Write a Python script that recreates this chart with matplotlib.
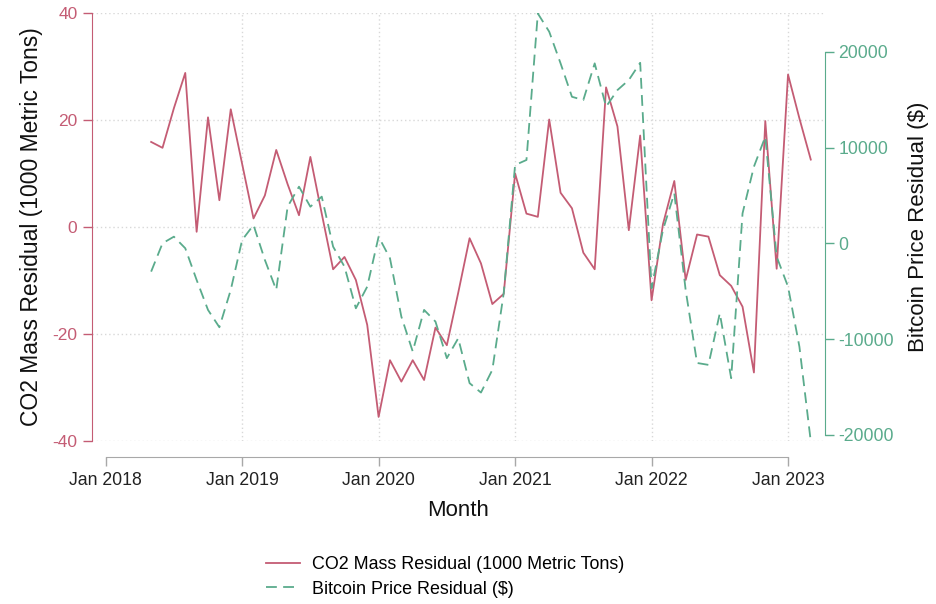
import matplotlib
matplotlib.use("Agg")
import matplotlib.pyplot as plt
import pandas as pd

plt.rcParams['font.family'] = ['Liberation Sans', 'DejaVu Sans']
plt.rcParams['axes.unicode_minus'] = False

# monthly residuals, May 2018 - Mar 2023
months = pd.period_range('2018-05', '2023-03', freq='M')
co2_resid = [15.9, 14.8, 22.2, 28.8, -0.9, 20.5, 5.0, 22.0,
             11.8, 1.6, 5.9, 14.4, 8.0, 2.2, 13.1, 2.5, -7.9, -5.6, -9.9, -18.3,
             -35.5, -24.9, -28.9, -24.9, -28.6, -18.8, -22.1, -12.3, -2.1, -6.8, -14.4, -12.5,
             10.0, 2.5, 1.9, 20.1, 6.4, 3.5, -4.8, -7.9, 26.1, 18.8, -0.6, 17.1,
             -13.7, 0.5, 8.6, -9.9, -1.4, -1.8, -9.0, -11.0, -14.9, -27.2, 19.8, -7.8,
             28.5, 20.3, 12.6]
btc_resid = [-2960, 0, 690, -520, -3830, -6960, -8770, -4870,
             340, 1910, -1740, -4870, 3820, 5910, 3820, 4870, -350, -2440, -6790, -4530,
             690, -1570, -7660, -11300, -6960, -8180, -12000, -9920, -14610, -15590, -13220, -5220,
             8170, 8700, 24000, 22100, 18790, 15300, 14960, 18790, 14260, 16000, 17050, 18850,
             -4700, 1390, 5220, -4900, -12500, -12700, -7310, -14090, 3130, 8000, 11130, -1400,
             -4530, -10800, -20700]
xtick_labels = ['Jan 2018', 'Jan 2019', 'Jan 2020', 'Jan 2021', 'Jan 2022', 'Jan 2023']

red = '#c45c74'
green = '#5aab8c'

# months since Jan 2018
x = (months.year - 2018) * 12 + months.month - 1

fig = plt.figure(figsize=(9.36, 6.04), dpi=100)
ax = fig.add_axes([92/936, 1 - 441/604, 733/936, 428/604])
ax2 = ax.twinx()

l1, = ax.plot(x, co2_resid, color=red, lw=1.3, label='CO2 Mass Residual (1000 Metric Tons)')
l2, = ax2.plot(x, btc_resid, color=green, lw=1.3, dashes=(6, 3.5), label='Bitcoin Price Residual ($)')

ax.set_xlim(-1.2, 63.25)
ax.set_ylim(-40, 40)
ax2.set_ylim(-20650, 24050)

xt = list(range(0, 61, 12))
ax.set_xticks(xt)
ax.set_xticklabels(xtick_labels)
ax.set_yticks([-40, -20, 0, 20, 40])
ax2.set_yticks([-20000, -10000, 0, 10000, 20000])

# dotted grid: all y ticks, x ticks after the first
grid_style = dict(color='#d8d8d8', linestyle=(0, (1, 2)), lw=1, zorder=0)
ax.grid(True, axis='y', **grid_style)
for t in xt[1:]:
    ax.axvline(t, **grid_style)

for s in ['top', 'right']:
    ax.spines[s].set_visible(False)
for s in ['top', 'left', 'bottom']:
    ax2.spines[s].set_visible(False)

ax.spines['left'].set_color(red)
ax.spines['left'].set_bounds(-40, 40)
ax.spines['bottom'].set_color('#a8a8a8')
ax.spines['bottom'].set_position(('outward', 11.5))
ax.spines['bottom'].set_bounds(0, 60)
ax2.spines['right'].set_color(green)
ax2.spines['right'].set_bounds(-20000, 20000)

ax.tick_params(axis='y', colors=red, length=6.5, width=1, labelsize=12.5, pad=4)
ax.tick_params(axis='x', color='#a8a8a8', labelcolor='#222222', length=6.5, width=1, labelsize=12.7, pad=4)
ax2.tick_params(axis='y', colors=green, length=6.5, width=1, labelsize=12.7, pad=3)

ax.set_xlabel('Month', fontsize=16, color='#111111', labelpad=8)
ax.set_ylabel('CO2 Mass Residual (1000 Metric Tons)', fontsize=16.5, color='#111111', labelpad=7)
ax2.set_ylabel('Bitcoin Price Residual ($)', fontsize=16, color='#111111', labelpad=10)

fig.legend(handles=[l1, l2], loc='center', bbox_to_anchor=(445/936, 1 - 577/604),
           frameon=False, fontsize=12.9, handlelength=1.9, handletextpad=0.7,
           labelspacing=0.4)

fig.savefig('out.png', dpi=100)
